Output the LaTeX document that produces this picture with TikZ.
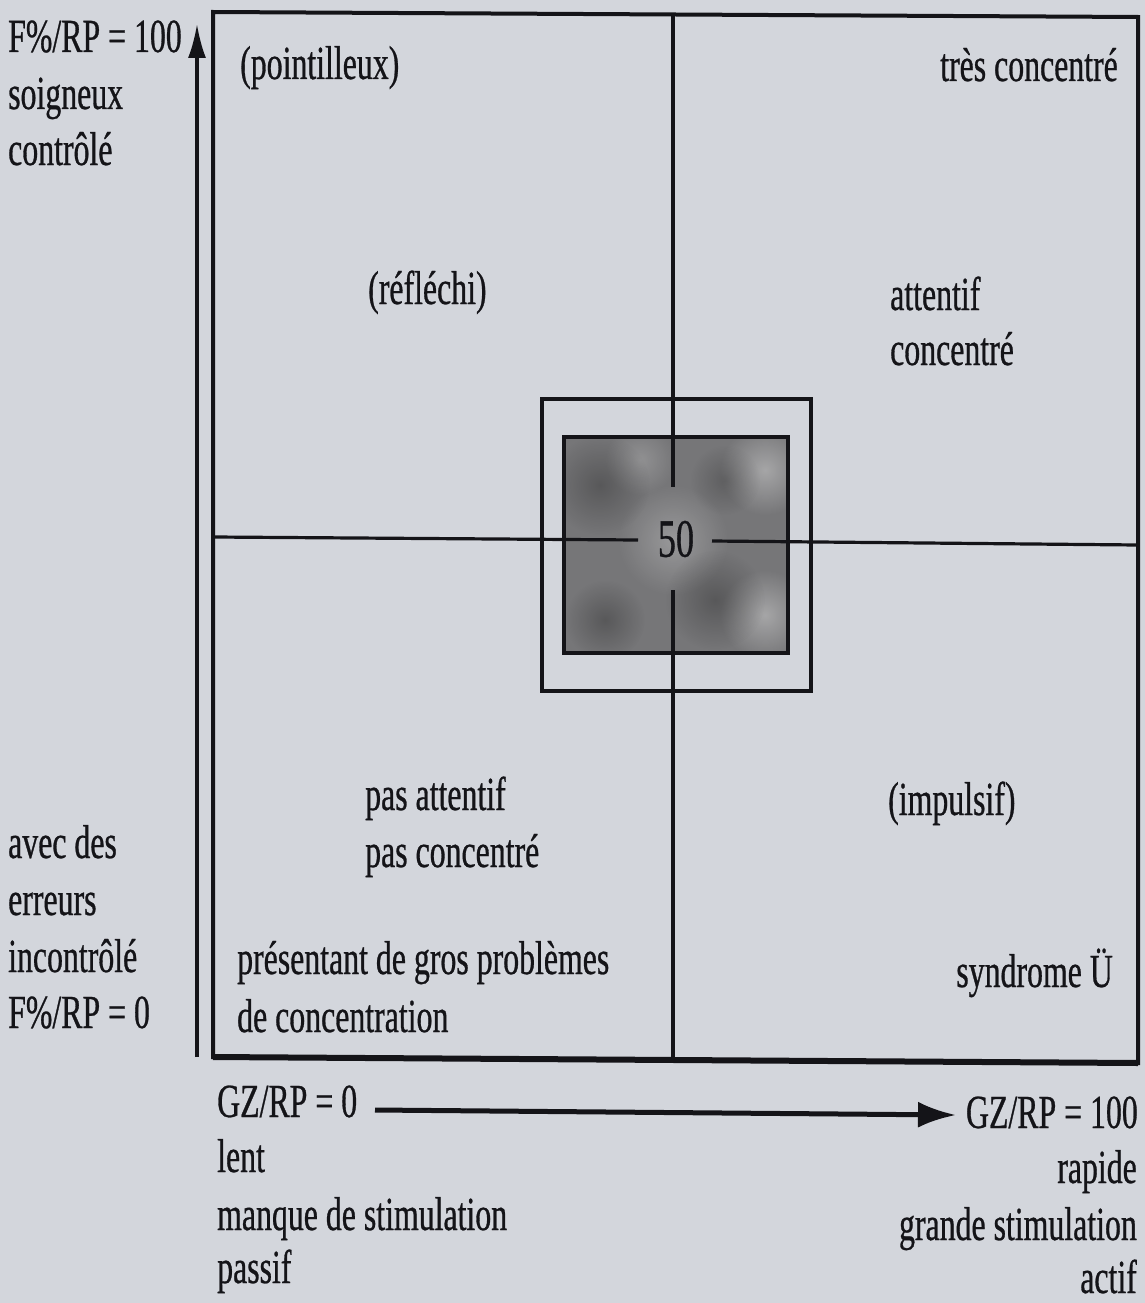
\documentclass[tikz,border=0pt]{standalone}
\usepackage{fontspec}
\setmainfont{Liberation Serif}[FakeStretch=0.67,FakeBold=0.6]
\usetikzlibrary{arrows.meta,fadings}
\definecolor{bg}{RGB}{211,214,220}
\definecolor{ink}{RGB}{20,20,24}
\definecolor{fillgray}{RGB}{118,118,120}
\tikzfading[name=softdot, inner color=transparent!0, outer color=transparent!100]
\begin{document}
\begin{tikzpicture}[x=1pt,y=-1pt,
  lbl/.style={inner sep=0pt, text=ink, font=\fontsize{47.5}{57}\selectfont},
  lw/.style={lbl, anchor=base west},
  le/.style={lbl, anchor=base east},
  frameline/.style={draw=ink, line width=4pt},
  crossline/.style={draw=ink, line width=3.2pt},
  axisline/.style={draw=ink, line width=3.5pt},
  spotlight/.style={fill=white, path fading=softdot, opacity=0.35},
  spotdark/.style={fill=black, path fading=softdot, opacity=0.25}]
\fill[bg] (0,0) rectangle (1145,1303);
\useasboundingbox (0,0) rectangle (1145,1303);

% centre boxes
\coordinate (ob1) at (542,399); \coordinate (ob2) at (811,691);
\coordinate (ib1) at (564,437); \coordinate (ib2) at (788,653);
\fill[fillgray] (ib1) rectangle (ib2);
\begin{scope}
  \clip (ib1) rectangle (ib2);
  \fill[spotlight] (765,470) circle (45);
  \fill[spotlight] (765,615) circle (45);
  \fill[spotlight, opacity=0.25] (673,540) circle (55);
  \fill[spotlight, opacity=0.2] (640,460) circle (35);
  \fill[spotdark] (600,485) circle (50);
  \fill[spotdark] (715,600) circle (50);
  \fill[spotdark] (605,620) circle (40);
  \fill[spotdark, opacity=0.2] (725,480) circle (35);
\end{scope}
\draw[frameline] (ob1) rectangle (ob2);
\draw[frameline, line width=4.5pt] (ib1) rectangle (ib2);

% cross lines
\coordinate (vt) at (673,14); \coordinate (vb) at (673,1060);
\coordinate (v1) at (673,487); \coordinate (v2) at (673,590);
\coordinate (hl) at (214,537); \coordinate (hr) at (1138,545);
\coordinate (h1) at (638,540); \coordinate (h2) at (712,541);
\draw[crossline] (vt) -- (v1);
\draw[crossline] (v2) -- (vb);
\draw[crossline] (hl) -- (h1);
\draw[crossline] (h2) -- (hr);
\node[lbl, font=\fontsize{54}{60}\selectfont] (fifty) at (676,539) {50};

% main frame
\coordinate (ftl) at (213,12); \coordinate (ftr) at (1138,17);
\coordinate (fbr) at (1138,1063); \coordinate (fbl) at (213,1057);
\draw[frameline] (ftl) -- (ftr) -- (fbr) -- (fbl) -- cycle;
\draw[ink, line width=6pt] (fbl) -- (fbr);

% axes
\coordinate (ya0) at (197,1057); \coordinate (ya1) at (197,24);
\draw[axisline, line width=3.2pt, -{Latex[length=34pt,width=18pt]}] (ya0) -- (ya1);
\coordinate (xa0) at (375,1110); \coordinate (xa1) at (956,1115);
\draw[axisline, line width=5pt, -{Latex[length=38pt,width=26pt]}] (xa0) -- (xa1);

% labels
\node[lw] (f100) at (8,52) {F\%/RP = 100};
\node[lw] (soig) at (8,109) {soigneux};
\node[lw] (contr) at (8,165) {contrôlé};
\node[lw] (point) at (240,79) {(pointilleux)};
\node[le] (tres) at (1118,81) {très concentré};
\node[lw] (refl) at (368,304) {(réfléchi)};
\node[lw] (att) at (890,310) {attentif};
\node[lw] (conc) at (890,365) {concentré};
\node[lw] (patt) at (365,810) {pas attentif};
\node[lw] (pconc) at (365,867) {pas concentré};
\node[lw] (impul) at (888,815) {(impulsif)};
\node[lw] (avec) at (8,858) {avec des};
\node[lw] (err) at (8,915) {erreurs};
\node[lw] (incon) at (8,972) {incontrôlé};
\node[lw] (f0) at (8,1028) {F\%/RP = 0};
\node[lw] (pres) at (237,974) {présentant de gros problèmes};
\node[lw] (deconc) at (237,1032) {de concentration};
\node[le] (synd) at (1113,987) {syndrome Ü};
\node[lw] (gz0) at (217,1117) {GZ/RP = 0};
\node[lw] (lent) at (217,1172) {lent};
\node[lw] (manque) at (217,1230) {manque de stimulation};
\node[lw] (passif) at (217,1283) {passif};
\node[le] (gz100) at (1138,1128) {GZ/RP = 100};
\node[le] (rapide) at (1137,1183) {rapide};
\node[le] (grande) at (1137,1240) {grande stimulation};
\node[le] (actif) at (1137,1293) {actif};
\end{tikzpicture}
\end{document}
